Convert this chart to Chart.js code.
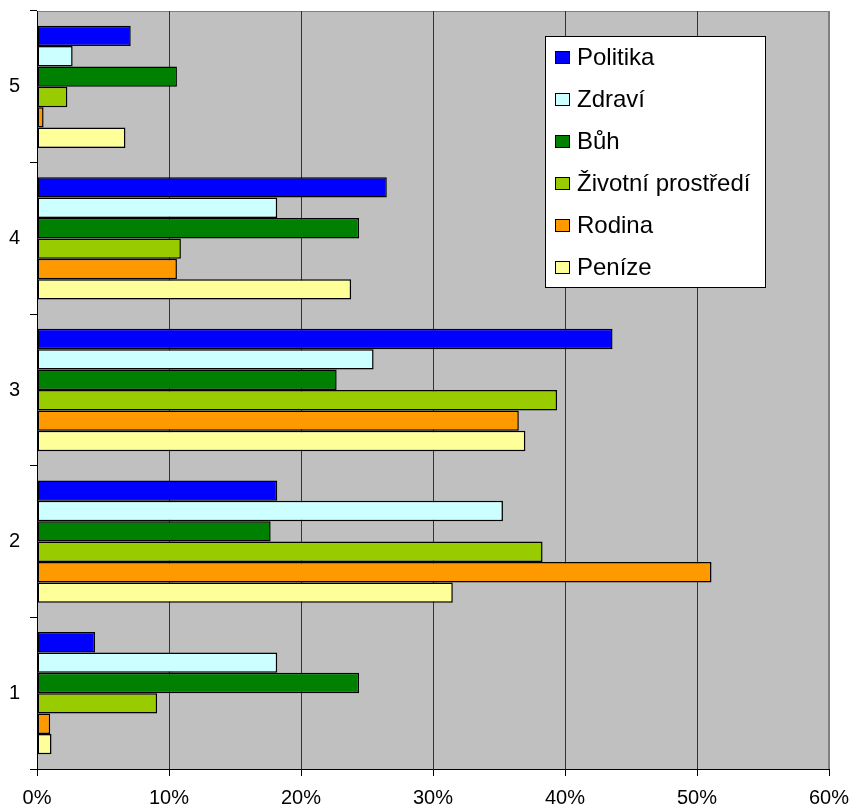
<!DOCTYPE html>
<html>
<head>
<meta charset="utf-8">
<script src="https://cdn.jsdelivr.net/npm/chart.js@4"></script>
<style>
  html, body { margin: 0; padding: 0; background: #fff; }
  #wrap { width: 851px; height: 809px; }
</style>
</head>
<body>
<div id="wrap"><canvas id="barChart" width="851" height="809"></canvas></div>
<script>
// categories, top to bottom
const labels = ['5', '4', '3', '2', '1'];
const seriesNames = ['Politika', 'Zdraví', 'Bůh', 'Životní prostředí', 'Rodina', 'Peníze'];
const politika = [7.1, 26.5, 43.6, 18.2, 4.4];
const zdravi = [2.7, 18.2, 25.5, 35.3, 18.2];
const buh = [10.6, 24.4, 22.7, 17.7, 24.4];
const zivotni = [2.3, 10.9, 39.4, 38.3, 9.1];
const rodina = [0.5, 10.6, 36.5, 51.1, 1.0];
const penize = [6.7, 23.8, 37.0, 31.5, 1.1];
const xTicks = [0, 10, 20, 30, 40, 50, 60];

const colors = ['#0000FF', '#CCFFFF', '#008000', '#99CC00', '#FF9900', '#FFFF99'];
const values = [politika, zdravi, buh, zivotni, rodina, penize];

const plotBg = {
    id: 'plotBg',
    beforeDraw(chart) {
        const a = chart.chartArea, ctx = chart.ctx;
        ctx.save();
        ctx.fillStyle = '#C0C0C0';
        ctx.fillRect(a.left, a.top, a.right - a.left, a.bottom - a.top);
        ctx.strokeStyle = '#808080';
        ctx.lineWidth = 1;
        ctx.strokeRect(a.left + 0.5, a.top + 0.5, a.right - a.left - 1, a.bottom - a.top);
        ctx.restore();
    }
};

// legend box inside the plot, like the original
const boxLegend = {
    id: 'boxLegend',
    afterDraw(chart) {
        const ctx = chart.ctx;
        const x = 545, y = 36, w = 220, h = 251;
        ctx.save();
        ctx.fillStyle = '#fff';
        ctx.fillRect(x, y, w, h);
        ctx.strokeStyle = '#000';
        ctx.lineWidth = 1;
        ctx.strokeRect(x + 0.5, y + 0.5, w, h);
        ctx.font = '24px "Liberation Sans", Arial, sans-serif';
        ctx.textBaseline = 'middle';
        chart.data.datasets.forEach(function(ds, i) {
            const cy = 57 + i * 42;
            ctx.fillStyle = ds.backgroundColor;
            ctx.fillRect(555, cy - 6, 15, 13);
            ctx.strokeStyle = '#000';
            ctx.strokeRect(555.5, cy - 5.5, 14, 12);
            ctx.fillStyle = '#000';
            ctx.fillText(ds.label, 577, cy + 1);
        });
        ctx.restore();
    }
};

const ctxBar = document.getElementById('barChart').getContext('2d');
const barChart = new Chart(ctxBar, {
    type: 'bar',
    data: {
        labels: labels,
        datasets: seriesNames.map(function(name, i) {
            return {
                label: name,
                data: values[i],
                backgroundColor: colors[i],
                borderColor: '#000',
                borderWidth: 1.5,
                borderSkipped: false,
                inflateAmount: 0,
                categoryPercentage: 0.807,
                barPercentage: 1.0
            };
        })
    },
    options: {
        indexAxis: 'y',
        responsive: false,
        animation: false,
        layout: { padding: { left: 0, right: 22, top: 11, bottom: 0 } },
        plugins: {
            legend: { display: false },
            tooltip: { enabled: false }
        },
        scales: {
            x: {
                min: 0,
                max: 60,
                afterBuildTicks: function(scale) {
                    scale.ticks = xTicks.map(function(v) { return { value: v }; });
                },
                afterFit: function(scale) {
                    scale.height = 40;
                    scale.paddingLeft = 0;
                    scale.paddingRight = 0;
                },
                grid: {
                    color: function(c) { return c.tick && c.tick.value === 60 ? '#808080' : '#333'; },
                    tickColor: '#000',
                    tickLength: 7,
                    lineWidth: 1
                },
                border: { color: '#000', width: 1 },
                ticks: {
                    color: '#000',
                    padding: 10,
                    font: { family: '"Liberation Sans", Arial, sans-serif', size: 20 },
                    callback: function(v) { return v + '%'; }
                }
            },
            y: {
                afterFit: function(scale) {
                    scale.width = 37;
                    scale.paddingTop = 0;
                    scale.paddingBottom = 0;
                },
                grid: {
                    drawOnChartArea: false,
                    offset: true,
                    tickColor: '#000',
                    tickLength: 7
                },
                border: { color: '#000', width: 1 },
                ticks: {
                    color: '#000',
                    padding: 10,
                    font: { family: '"Liberation Sans", Arial, sans-serif', size: 20 }
                }
            }
        }
    },
    plugins: [plotBg, boxLegend]
});
</script>
</body>
</html>
